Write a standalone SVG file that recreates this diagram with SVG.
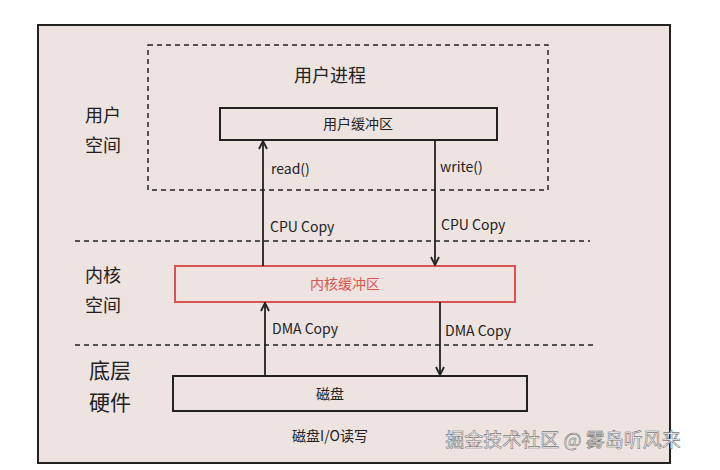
<svg xmlns="http://www.w3.org/2000/svg" width="720" height="470" viewBox="0 0 720 470">
<style>
text{font-family:"Noto Sans CJK SC","Noto Sans",sans-serif;fill:#222}
.lbl{font-size:14px}
.side{font-size:18px}
.box{fill:none;stroke:#222;stroke-width:2}
.dash{fill:none;stroke:#222;stroke-width:1.5;stroke-dasharray:5,4}
.arr{stroke:#222;stroke-width:1.8;fill:none;marker-end:url(#ah)}
</style>
<defs><marker id="ah" markerWidth="10" markerHeight="10" refX="9" refY="5" orient="auto" markerUnits="userSpaceOnUse"><path d="M1,1 L9,5 L1,9" fill="none" stroke="#222" stroke-width="1.8"/></marker></defs>
<rect width="720" height="470" fill="#fff"/>
<rect x="38" y="25" width="632" height="438" fill="#ede3e0" stroke="#222" stroke-width="2"/>
<g id="user-process"><rect class="dash" x="148" y="45" width="400" height="145"/><text x="330" y="82" font-size="18" text-anchor="middle">用户进程</text></g>
<g id="user-buffer"><rect class="box" x="220" y="108" width="277" height="32"/><text class="lbl" x="358" y="129" text-anchor="middle">用户缓冲区</text></g>
<g id="kernel-buffer"><rect x="175" y="266" width="340" height="36" fill="none" stroke="#d9534f" stroke-width="2"/><text class="lbl" x="345" y="289" text-anchor="middle" style="fill:#d9534f">内核缓冲区</text></g>
<g id="disk"><rect class="box" x="173" y="376" width="354" height="35"/><text class="lbl" x="330" y="399" text-anchor="middle">磁盘</text></g>
<g id="labels">
<text class="side" x="103" y="122" text-anchor="middle">用户</text>
<text class="side" x="103" y="152" text-anchor="middle">空间</text>
<text class="side" x="103" y="282" text-anchor="middle">内核</text>
<text class="side" x="103" y="312" text-anchor="middle">空间</text>
<text x="110" y="378" font-size="21" text-anchor="middle">底层</text>
<text x="110" y="410" font-size="21" text-anchor="middle">硬件</text>
<text class="lbl" x="330" y="441" text-anchor="middle">磁盘I/O读写</text>
<text x="563" y="447" font-size="19" text-anchor="middle" style="fill:#fff;stroke:#777;stroke-width:0.6">掘金技术社区 @ 雾岛听风来</text>
</g>
<g id="connectors">
<line class="dash" x1="75" y1="241" x2="590" y2="241"/>
<line class="dash" x1="75" y1="345" x2="595" y2="345"/>
<line class="arr" x1="263" y1="266" x2="263" y2="141"/>
<line class="arr" x1="435" y1="140" x2="435" y2="265"/>
<line class="arr" x1="265" y1="376" x2="265" y2="303"/>
<line class="arr" x1="440" y1="302" x2="440" y2="375"/>
<text class="lbl" x="271" y="174">read()</text>
<text class="lbl" x="270" y="232">CPU Copy</text>
<text class="lbl" x="440" y="172">write()</text>
<text class="lbl" x="441" y="230">CPU Copy</text>
<text class="lbl" x="272" y="334">DMA Copy</text>
<text class="lbl" x="445" y="336">DMA Copy</text>
</g>
</svg>
